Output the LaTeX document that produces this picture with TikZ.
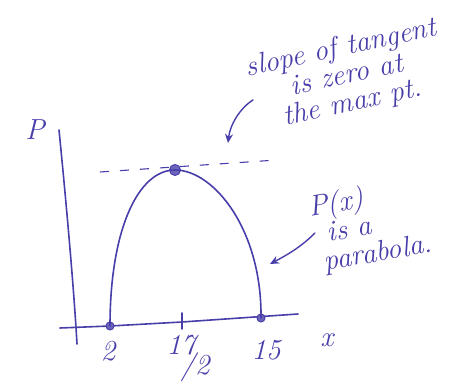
\documentclass[tikz,border=0pt]{standalone}
\usetikzlibrary{arrows.meta}
\definecolor{ink}{RGB}{72,62,170}
\begin{document}
\begin{tikzpicture}[x=1pt,y=-1pt,
  pen/.style={draw=ink,line width=1.6pt,line cap=round},
  lbl/.style={text=ink,font=\fontsize{29}{28}\selectfont\itshape,inner sep=0pt},
  pt/.style={circle,fill=ink!80,draw=ink,line width=1pt,minimum size=8pt,inner sep=0pt}]
\useasboundingbox (0,0) rectangle (467,385);
% axes
\coordinate (ytop) at (59,130);
\coordinate (ybot) at (77,344);
\coordinate (xl) at (60,328);
\coordinate (xr) at (298,314);
\draw[pen] (ytop) .. controls (66,200) and (74,290) .. (ybot);
\draw[pen] (xl) -- (110,326) -- (182,322) -- (xr);
% tick
\coordinate (tk1) at (182,313);
\coordinate (tk2) at (182,329);
\draw[pen] (tk1) -- (tk2);
% points
\node[pt] (p2) at (110,326) {};
\node[pt] (p15) at (261,318) {};
\node[pt,minimum size=11pt] (top) at (175,170) {};
% parabola
\draw[pen] (p2.center) .. controls (110,230) and (138,170) .. (top.center)
  .. controls (214,170) and (262,230) .. (p15.center);
% dashed tangent
\coordinate (dl) at (100,172);
\coordinate (dr) at (277,160);
\draw[draw=ink,line width=1.1pt,dash pattern=on 9pt off 11pt] (dl) -- (dr);
% labels
\node[lbl] (P) at (35,130) {P};
\node[lbl] (x) at (327,340) {x};
\node[lbl] (l2) at (108,351) {2};
\node[lbl] (l17) at (181,345) {17};
\node[lbl] (l2b) at (195,367) {/2};
\node[lbl] (l15) at (266,350) {15};
% annotation 1
\node[lbl,rotate=12,align=center] (a1) at (347,76) {slope of tangent\\is zero at\\the max pt.};
\coordinate (s1) at (253,100);
\coordinate (e1) at (228,143);
\draw[pen,line width=1.4pt,-{Stealth[length=9pt,width=8pt]}] (s1) .. controls (240,108) and (230,125) .. (e1);
% annotation 2
\node[lbl,rotate=10,align=left,anchor=north west] (b) at (306,195) {P(x)\\\hspace*{14pt}is a\\\hspace*{6pt}parabola.};
\coordinate (s2) at (315,233);
\coordinate (e2) at (270,264);
\draw[pen,line width=1.4pt,-{Stealth[length=9pt,width=8pt]}] (s2) .. controls (300,248) and (285,256) .. (e2);
\end{tikzpicture}
\end{document}
